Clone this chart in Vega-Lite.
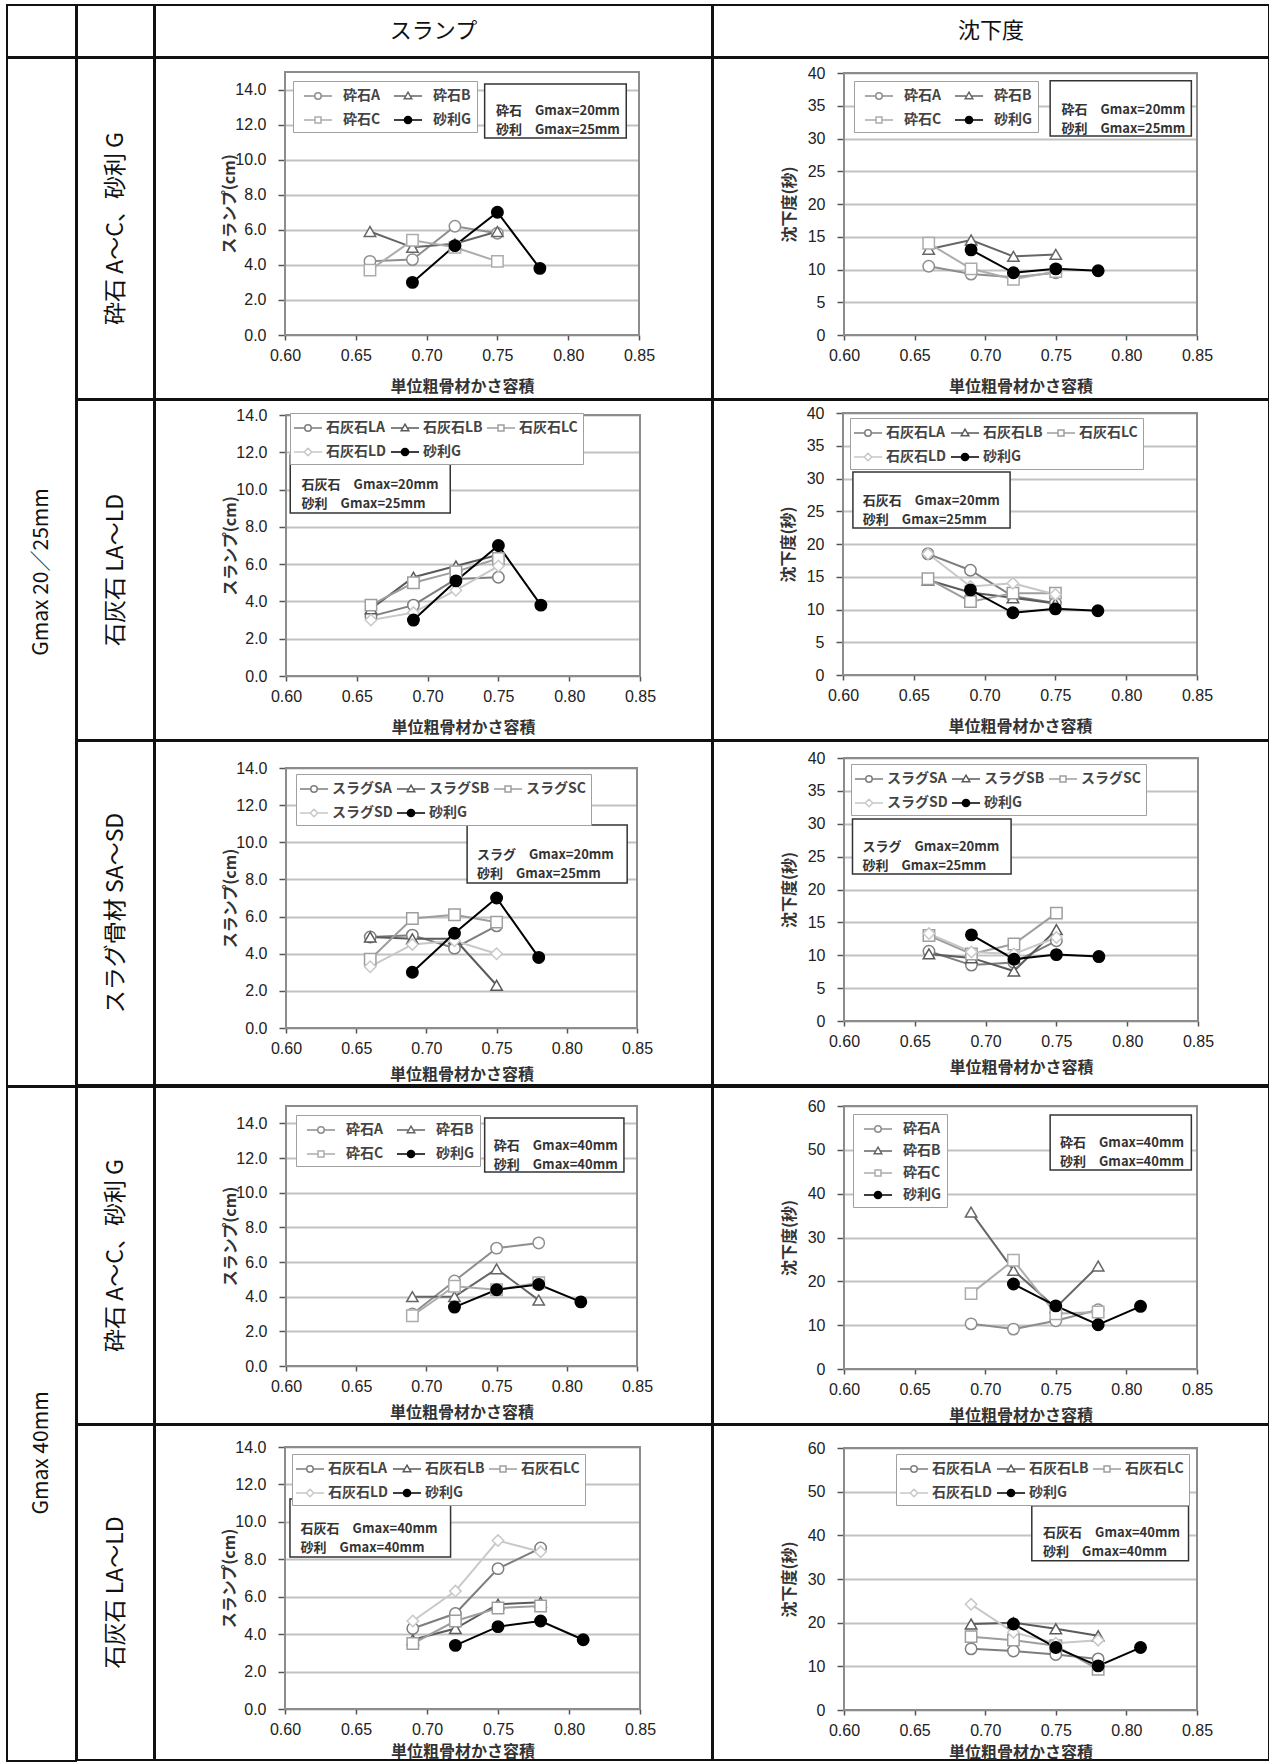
{
"$schema": "https://vega.github.io/schema/vega-lite/v6.json",
"padding": {"left": 6, "top": 4, "right": 0, "bottom": 0},
"background": "white",
"config": {
 "view": {"stroke": "#111111", "strokeWidth": 2},
 "text": {"font": "Noto Sans CJK JP", "color": "#111111"},
 "axis": {"domain": false, "labelFlush": false, "labelOverlap": false, "labelFont": "Liberation Sans", "labelFontSize": 16, "labelColor": "#222222", "titleFont": "Noto Sans CJK JP", "titleFontSize": 16, "titleFontWeight": "bold", "titleColor": "#333333", "tickColor": "#555555", "tickWidth": 1.5, "gridColor": "#c2c2c2", "gridWidth": 1.8},
 "axisX": {"grid": false, "tickSize": 5, "labelPadding": 7},
 "axisY": {"grid": true, "tickSize": 7, "labelPadding": 12},
 "legend": {"orient": "none", "zindex": 1, "labelFont": "Noto Sans CJK JP", "labelFontSize": 14, "labelFontWeight": "bold", "labelColor": "#444444", "symbolSize": 324, "symbolStrokeWidth": 1.5, "symbolOffset": 10, "labelOffset": 15, "columnPadding": 7, "rowPadding": 7, "padding": 5, "strokeColor": "#a0a0a0", "fillColor": "white"}
},
"datasets": {"d": [
{"c":1,"s":"砕石A","x":0.66,"y":4.2},{"c":1,"s":"砕石A","x":0.69,"y":4.3},{"c":1,"s":"砕石A","x":0.72,"y":6.2},{"c":1,"s":"砕石A","x":0.75,"y":5.8},
{"c":1,"s":"砕石B","x":0.66,"y":5.9},{"c":1,"s":"砕石B","x":0.69,"y":5.0},{"c":1,"s":"砕石B","x":0.72,"y":5.2},{"c":1,"s":"砕石B","x":0.75,"y":5.9},
{"c":1,"s":"砕石C","x":0.66,"y":3.7},{"c":1,"s":"砕石C","x":0.69,"y":5.4},{"c":1,"s":"砕石C","x":0.72,"y":5.0},{"c":1,"s":"砕石C","x":0.75,"y":4.2},
{"c":1,"s":"砂利G","x":0.69,"y":3.0},{"c":1,"s":"砂利G","x":0.72,"y":5.1},{"c":1,"s":"砂利G","x":0.75,"y":7.0},{"c":1,"s":"砂利G","x":0.78,"y":3.8},
{"c":2,"s":"砕石A","x":0.66,"y":10.5},{"c":2,"s":"砕石A","x":0.69,"y":9.3},{"c":2,"s":"砕石A","x":0.72,"y":8.8},{"c":2,"s":"砕石A","x":0.75,"y":9.5},
{"c":2,"s":"砕石B","x":0.66,"y":13.1},{"c":2,"s":"砕石B","x":0.69,"y":14.5},{"c":2,"s":"砕石B","x":0.72,"y":12.0},{"c":2,"s":"砕石B","x":0.75,"y":12.3},
{"c":2,"s":"砕石C","x":0.66,"y":14.0},{"c":2,"s":"砕石C","x":0.69,"y":10.1},{"c":2,"s":"砕石C","x":0.72,"y":8.5},{"c":2,"s":"砕石C","x":0.75,"y":9.7},
{"c":2,"s":"砂利G","x":0.69,"y":13.0},{"c":2,"s":"砂利G","x":0.72,"y":9.5},{"c":2,"s":"砂利G","x":0.75,"y":10.1},{"c":2,"s":"砂利G","x":0.78,"y":9.8},
{"c":3,"s":"石灰石LA","x":0.66,"y":3.2},{"c":3,"s":"石灰石LA","x":0.69,"y":3.8},{"c":3,"s":"石灰石LA","x":0.72,"y":5.2},{"c":3,"s":"石灰石LA","x":0.75,"y":5.3},
{"c":3,"s":"石灰石LB","x":0.66,"y":3.6},{"c":3,"s":"石灰石LB","x":0.69,"y":5.3},{"c":3,"s":"石灰石LB","x":0.72,"y":5.9},{"c":3,"s":"石灰石LB","x":0.75,"y":6.5},
{"c":3,"s":"石灰石LC","x":0.66,"y":3.8},{"c":3,"s":"石灰石LC","x":0.69,"y":5.0},{"c":3,"s":"石灰石LC","x":0.72,"y":5.6},{"c":3,"s":"石灰石LC","x":0.75,"y":6.3},
{"c":3,"s":"石灰石LD","x":0.66,"y":3.0},{"c":3,"s":"石灰石LD","x":0.69,"y":3.4},{"c":3,"s":"石灰石LD","x":0.72,"y":4.6},{"c":3,"s":"石灰石LD","x":0.75,"y":5.9},
{"c":3,"s":"砂利G","x":0.69,"y":3.0},{"c":3,"s":"砂利G","x":0.72,"y":5.1},{"c":3,"s":"砂利G","x":0.75,"y":7.0},{"c":3,"s":"砂利G","x":0.78,"y":3.8},
{"c":4,"s":"石灰石LA","x":0.66,"y":18.5},{"c":4,"s":"石灰石LA","x":0.69,"y":16.0},{"c":4,"s":"石灰石LA","x":0.72,"y":12.0},{"c":4,"s":"石灰石LA","x":0.75,"y":11.0},
{"c":4,"s":"石灰石LB","x":0.66,"y":14.5},{"c":4,"s":"石灰石LB","x":0.69,"y":12.6},{"c":4,"s":"石灰石LB","x":0.72,"y":11.8},{"c":4,"s":"石灰石LB","x":0.75,"y":10.9},
{"c":4,"s":"石灰石LC","x":0.66,"y":14.7},{"c":4,"s":"石灰石LC","x":0.69,"y":11.2},{"c":4,"s":"石灰石LC","x":0.72,"y":12.5},{"c":4,"s":"石灰石LC","x":0.75,"y":12.5},
{"c":4,"s":"石灰石LD","x":0.66,"y":18.5},{"c":4,"s":"石灰石LD","x":0.69,"y":13.5},{"c":4,"s":"石灰石LD","x":0.72,"y":14.0},{"c":4,"s":"石灰石LD","x":0.75,"y":12.3},
{"c":4,"s":"砂利G","x":0.69,"y":13.0},{"c":4,"s":"砂利G","x":0.72,"y":9.5},{"c":4,"s":"砂利G","x":0.75,"y":10.1},{"c":4,"s":"砂利G","x":0.78,"y":9.8},
{"c":5,"s":"スラグSA","x":0.66,"y":4.9},{"c":5,"s":"スラグSA","x":0.69,"y":5.0},{"c":5,"s":"スラグSA","x":0.72,"y":4.3},{"c":5,"s":"スラグSA","x":0.75,"y":5.5},
{"c":5,"s":"スラグSB","x":0.66,"y":4.9},{"c":5,"s":"スラグSB","x":0.69,"y":4.8},{"c":5,"s":"スラグSB","x":0.72,"y":4.8},{"c":5,"s":"スラグSB","x":0.75,"y":2.3},
{"c":5,"s":"スラグSC","x":0.66,"y":3.7},{"c":5,"s":"スラグSC","x":0.69,"y":5.9},{"c":5,"s":"スラグSC","x":0.72,"y":6.1},{"c":5,"s":"スラグSC","x":0.75,"y":5.7},
{"c":5,"s":"スラグSD","x":0.66,"y":3.3},{"c":5,"s":"スラグSD","x":0.69,"y":4.5},{"c":5,"s":"スラグSD","x":0.72,"y":4.7},{"c":5,"s":"スラグSD","x":0.75,"y":4.0},
{"c":5,"s":"砂利G","x":0.69,"y":3.0},{"c":5,"s":"砂利G","x":0.72,"y":5.1},{"c":5,"s":"砂利G","x":0.75,"y":7.0},{"c":5,"s":"砂利G","x":0.78,"y":3.8},
{"c":6,"s":"スラグSA","x":0.66,"y":10.6},{"c":6,"s":"スラグSA","x":0.69,"y":8.5},{"c":6,"s":"スラグSA","x":0.72,"y":8.9},{"c":6,"s":"スラグSA","x":0.75,"y":12.2},
{"c":6,"s":"スラグSB","x":0.66,"y":10.2},{"c":6,"s":"スラグSB","x":0.69,"y":9.6},{"c":6,"s":"スラグSB","x":0.72,"y":7.6},{"c":6,"s":"スラグSB","x":0.75,"y":13.9},
{"c":6,"s":"スラグSC","x":0.66,"y":13.0},{"c":6,"s":"スラグSC","x":0.69,"y":10.2},{"c":6,"s":"スラグSC","x":0.72,"y":11.7},{"c":6,"s":"スラグSC","x":0.75,"y":16.4},
{"c":6,"s":"スラグSD","x":0.66,"y":13.3},{"c":6,"s":"スラグSD","x":0.69,"y":10.5},{"c":6,"s":"スラグSD","x":0.72,"y":10.2},{"c":6,"s":"スラグSD","x":0.75,"y":12.7},
{"c":6,"s":"砂利G","x":0.69,"y":13.1},{"c":6,"s":"砂利G","x":0.72,"y":9.4},{"c":6,"s":"砂利G","x":0.75,"y":10.1},{"c":6,"s":"砂利G","x":0.78,"y":9.8},
{"c":7,"s":"砕石A","x":0.69,"y":3.0},{"c":7,"s":"砕石A","x":0.72,"y":4.9},{"c":7,"s":"砕石A","x":0.75,"y":6.8},{"c":7,"s":"砕石A","x":0.78,"y":7.1},
{"c":7,"s":"砕石B","x":0.69,"y":4.0},{"c":7,"s":"砕石B","x":0.72,"y":4.0},{"c":7,"s":"砕石B","x":0.75,"y":5.6},{"c":7,"s":"砕石B","x":0.78,"y":3.8},
{"c":7,"s":"砕石C","x":0.69,"y":2.9},{"c":7,"s":"砕石C","x":0.72,"y":4.6},{"c":7,"s":"砕石C","x":0.75,"y":4.4},{"c":7,"s":"砕石C","x":0.78,"y":4.8},
{"c":7,"s":"砂利G","x":0.72,"y":3.4},{"c":7,"s":"砂利G","x":0.75,"y":4.4},{"c":7,"s":"砂利G","x":0.78,"y":4.7},{"c":7,"s":"砂利G","x":0.81,"y":3.7},
{"c":8,"s":"砕石A","x":0.69,"y":10.3},{"c":8,"s":"砕石A","x":0.72,"y":9.1},{"c":8,"s":"砕石A","x":0.75,"y":11.0},{"c":8,"s":"砕石A","x":0.78,"y":13.5},
{"c":8,"s":"砕石B","x":0.69,"y":35.8},{"c":8,"s":"砕石B","x":0.72,"y":22.5},{"c":8,"s":"砕石B","x":0.75,"y":14.0},{"c":8,"s":"砕石B","x":0.78,"y":23.5},
{"c":8,"s":"砕石C","x":0.69,"y":17.2},{"c":8,"s":"砕石C","x":0.72,"y":24.8},{"c":8,"s":"砕石C","x":0.75,"y":12.6},{"c":8,"s":"砕石C","x":0.78,"y":13.0},
{"c":8,"s":"砂利G","x":0.72,"y":19.4},{"c":8,"s":"砂利G","x":0.75,"y":14.4},{"c":8,"s":"砂利G","x":0.78,"y":10.1},{"c":8,"s":"砂利G","x":0.81,"y":14.3},
{"c":9,"s":"石灰石LA","x":0.69,"y":4.3},{"c":9,"s":"石灰石LA","x":0.72,"y":5.1},{"c":9,"s":"石灰石LA","x":0.75,"y":7.5},{"c":9,"s":"石灰石LA","x":0.78,"y":8.6},
{"c":9,"s":"石灰石LB","x":0.69,"y":3.7},{"c":9,"s":"石灰石LB","x":0.72,"y":4.3},{"c":9,"s":"石灰石LB","x":0.75,"y":5.6},{"c":9,"s":"石灰石LB","x":0.78,"y":5.7},
{"c":9,"s":"石灰石LC","x":0.69,"y":3.5},{"c":9,"s":"石灰石LC","x":0.72,"y":4.7},{"c":9,"s":"石灰石LC","x":0.75,"y":5.4},{"c":9,"s":"石灰石LC","x":0.78,"y":5.5},
{"c":9,"s":"石灰石LD","x":0.69,"y":4.7},{"c":9,"s":"石灰石LD","x":0.72,"y":6.3},{"c":9,"s":"石灰石LD","x":0.75,"y":9.0},{"c":9,"s":"石灰石LD","x":0.78,"y":8.4},
{"c":9,"s":"砂利G","x":0.72,"y":3.4},{"c":9,"s":"砂利G","x":0.75,"y":4.4},{"c":9,"s":"砂利G","x":0.78,"y":4.7},{"c":9,"s":"砂利G","x":0.81,"y":3.7},
{"c":10,"s":"石灰石LA","x":0.69,"y":14.0},{"c":10,"s":"石灰石LA","x":0.72,"y":13.5},{"c":10,"s":"石灰石LA","x":0.75,"y":12.7},{"c":10,"s":"石灰石LA","x":0.78,"y":11.7},
{"c":10,"s":"石灰石LB","x":0.69,"y":19.7},{"c":10,"s":"石灰石LB","x":0.72,"y":20.0},{"c":10,"s":"石灰石LB","x":0.75,"y":18.6},{"c":10,"s":"石灰石LB","x":0.78,"y":17.0},
{"c":10,"s":"石灰石LC","x":0.69,"y":16.8},{"c":10,"s":"石灰石LC","x":0.72,"y":16.0},{"c":10,"s":"石灰石LC","x":0.75,"y":14.7},{"c":10,"s":"石灰石LC","x":0.78,"y":9.3},
{"c":10,"s":"石灰石LD","x":0.69,"y":24.2},{"c":10,"s":"石灰石LD","x":0.72,"y":17.8},{"c":10,"s":"石灰石LD","x":0.75,"y":15.3},{"c":10,"s":"石灰石LD","x":0.78,"y":16.0},
{"c":10,"s":"砂利G","x":0.72,"y":19.7},{"c":10,"s":"砂利G","x":0.75,"y":14.3},{"c":10,"s":"砂利G","x":0.78,"y":10.1},{"c":10,"s":"砂利G","x":0.81,"y":14.3}
]},
"spacing": -4, "bounds": "full",
"resolve": {"scale": {"shape": "independent", "stroke": "independent", "fill": "independent"}},
"vconcat": [
 {"hconcat": [
   {"width": 69, "height": 52, "view": {"stroke": "#111111", "strokeWidth": 2}, "data": {"values": [{"t": ""}]}, "mark": {"type": "text"}, "encoding": {"y": {"datum": 0.5, "type": "quantitative", "scale": {"domain": [0, 1]}, "axis": null}, "text": {"field": "t"}}},
   {"width": 77, "height": 52, "view": {"stroke": "#111111", "strokeWidth": 2}, "data": {"values": [{"t": ""}]}, "mark": {"type": "text"}, "encoding": {"y": {"datum": 0.5, "type": "quantitative", "scale": {"domain": [0, 1]}, "axis": null}, "text": {"field": "t"}}},
   {"width": 557, "height": 52, "view": {"stroke": "#111111", "strokeWidth": 2}, "data": {"values": [{"t": "スランプ"}]}, "mark": {"type": "text", "fontSize": 22}, "encoding": {"y": {"datum": 0.5, "type": "quantitative", "scale": {"domain": [0, 1]}, "axis": null}, "text": {"field": "t"}}},
   {"width": 556, "height": 52, "view": {"stroke": "#111111", "strokeWidth": 2}, "data": {"values": [{"t": "沈下度"}]}, "mark": {"type": "text", "fontSize": 22}, "encoding": {"y": {"datum": 0.5, "type": "quantitative", "scale": {"domain": [0, 1]}, "axis": null}, "text": {"field": "t"}}}
  ], "spacing": -4, "bounds": "full", "resolve": {"scale": {"shape": "independent", "stroke": "independent", "fill": "independent"}}},
 {"hconcat": [
   {"width": 69, "height": 1028, "view": {"stroke": "#111111", "strokeWidth": 2}, "data": {"values": [{"t": "Gmax 20／25mm"}]}, "mark": {"type": "text", "angle": 270, "fontSize": 21}, "encoding": {"y": {"datum": 0.5, "type": "quantitative", "scale": {"domain": [0, 1]}, "axis": null}, "text": {"field": "t"}}},
   {"vconcat": [
     {"hconcat": [
       {"width": 77, "height": 341, "view": {"stroke": "#111111", "strokeWidth": 2}, "data": {"values": [{"t": "砕石 A〜C、砂利 G"}]}, "mark": {"type": "text", "angle": 270, "fontSize": 23}, "encoding": {"y": {"datum": 0.5, "type": "quantitative", "scale": {"domain": [0, 1]}, "axis": null}, "text": {"field": "t"}}},
       {"width": 557, "height": 341,
        "layer": [
         {"data": {"values": [{}]}, "mark": {"type": "rect", "fill": "transparent", "stroke": "#8c8c8c", "strokeWidth": 2},
          "encoding": {
           "x": {"datum": 0.6, "type": "quantitative", "scale": {"domain": [0.6, 0.85], "range": [130, 484], "nice": false, "zero": false}, "axis": {"title": "単位粗骨材かさ容積", "offset": -64, "titlePadding": 15, "values": [0.6, 0.65, 0.7, 0.75, 0.8, 0.85], "format": ".2f"}},
           "x2": {"datum": 0.85},
           "y": {"datum": 0, "type": "quantitative", "scale": {"domain": [0, 15], "range": [277, 14], "nice": false, "zero": false}, "axis": {"title": "スランプ(cm)", "offset": -130, "titlePadding": -3, "values": [0, 2, 4, 6, 8, 10, 12, 14], "format": ".1f"}},
           "y2": {"datum": 15}}},
         {"data": {"name": "d"}, "transform": [{"filter": "datum.c == 1"}], "mark": {"type": "line", "strokeWidth": 2},
          "encoding": {"x": {"field": "x", "type": "quantitative"}, "y": {"field": "y", "type": "quantitative"},
           "stroke": {"field": "s", "type": "nominal", "scale": {"domain": ["砕石A","砕石B","砕石C","砂利G"], "range": ["#8e8e8e","#666666","#acacac","#000000"]}, "legend": null}}},
         {"data": {"name": "d"}, "transform": [{"filter": "datum.c == 1"}], "mark": {"type": "point", "filled": true, "size": 130, "strokeWidth": 1.5, "opacity": 1},
          "encoding": {"x": {"field": "x", "type": "quantitative"}, "y": {"field": "y", "type": "quantitative"},
           "shape": {"field": "s", "type": "nominal", "scale": {"domain": ["砕石A","砕石B","砕石C","砂利G"], "range": ["circle","triangle-up","square","circle"]}, "legend": null},
           "stroke": {"field": "s", "type": "nominal", "scale": {"domain": ["砕石A","砕石B","砕石C","砂利G"], "range": ["#8e8e8e","#666666","#acacac","#000000"]}, "legend": null},
           "fill": {"field": "s", "type": "nominal", "scale": {"domain": ["砕石A","砕石B","砕石C","砂利G"], "range": ["white","white","white","black"]}, "legend": null}}},
         {"data": {"name": "d"}, "transform": [{"filter": "false"}], "mark": {"type": "point", "filled": true, "strokeWidth": 1.5, "opacity": 1},
          "encoding": {
           "shape": {"field": "s", "type": "nominal", "scale": {"domain": ["砕石A","砕石B","砕石C","砂利G"], "range": ["M-1.56,0L-0.36,0M0.36,0L1.56,0M0.36,0A0.36,0.36,0,1,1,-0.36,0A0.36,0.36,0,1,1,0.36,0Z","M-1.56,0L-0.25,0M0.25,0L1.56,0M0,-0.42L0.42,0.3L-0.42,0.3Z","M-1.56,0L-0.33,0M0.33,0L1.56,0M-0.33,-0.33L0.33,-0.33L0.33,0.33L-0.33,0.33Z","M-1.56,0L1.56,0M0.4,0A0.4,0.4,0,1,1,-0.4,0A0.4,0.4,0,1,1,0.4,0Z"]}, "legend": {"title": null, "columns": 2, "direction": "horizontal", "legendX": 138, "legendY": 23}},
           "stroke": {"field": "s", "type": "nominal", "scale": {"domain": ["砕石A","砕石B","砕石C","砂利G"], "range": ["#8e8e8e","#666666","#acacac","#000000"]}},
           "fill": {"field": "s", "type": "nominal", "scale": {"domain": ["砕石A","砕石B","砕石C","砂利G"], "range": ["white","white","white","black"]}}}},
         {"data": {"values": [{}]}, "mark": {"type": "rect", "fill": "white", "stroke": "#333333", "strokeWidth": 1.5},
          "encoding": {"x": {"datum": 0.741}, "x2": {"datum": 0.841}, "y": {"datum": 11.24}, "y2": {"datum": 14.32}}},
         {"data": {"values": [{"t": "砕石　Gmax=20mm\n砂利　Gmax=25mm"}]}, "mark": {"type": "text", "align": "left", "baseline": "middle", "lineBreak": "\n", "lineHeight": 19, "fontSize": 13, "fontWeight": "bold", "color": "#333333"},
          "encoding": {"x": {"datum": 0.749}, "y": {"datum": 12.75}, "text": {"field": "t"}}}
        ],
        "resolve": {"scale": {"shape": "independent", "stroke": "independent", "fill": "independent"}}},
       {"width": 556, "height": 341,
        "layer": [
         {"data": {"values": [{}]}, "mark": {"type": "rect", "fill": "transparent", "stroke": "#8c8c8c", "strokeWidth": 2},
          "encoding": {
           "x": {"datum": 0.6, "type": "quantitative", "scale": {"domain": [0.6, 0.85], "range": [131, 484], "nice": false, "zero": false}, "axis": {"title": "単位粗骨材かさ容積", "offset": -64, "titlePadding": 15, "values": [0.6, 0.65, 0.7, 0.75, 0.8, 0.85], "format": ".2f"}},
           "x2": {"datum": 0.85},
           "y": {"datum": 0, "type": "quantitative", "scale": {"domain": [0, 40], "range": [277, 15], "nice": false, "zero": false}, "axis": {"title": "沈下度(秒)", "offset": -131, "titlePadding": 10, "values": [0, 5, 10, 15, 20, 25, 30, 35, 40], "format": "d"}},
           "y2": {"datum": 40}}},
         {"data": {"name": "d"}, "transform": [{"filter": "datum.c == 2"}], "mark": {"type": "line", "strokeWidth": 2},
          "encoding": {"x": {"field": "x", "type": "quantitative"}, "y": {"field": "y", "type": "quantitative"},
           "stroke": {"field": "s", "type": "nominal", "scale": {"domain": ["砕石A","砕石B","砕石C","砂利G"], "range": ["#8e8e8e","#666666","#acacac","#000000"]}, "legend": null}}},
         {"data": {"name": "d"}, "transform": [{"filter": "datum.c == 2"}], "mark": {"type": "point", "filled": true, "size": 130, "strokeWidth": 1.5, "opacity": 1},
          "encoding": {"x": {"field": "x", "type": "quantitative"}, "y": {"field": "y", "type": "quantitative"},
           "shape": {"field": "s", "type": "nominal", "scale": {"domain": ["砕石A","砕石B","砕石C","砂利G"], "range": ["circle","triangle-up","square","circle"]}, "legend": null},
           "stroke": {"field": "s", "type": "nominal", "scale": {"domain": ["砕石A","砕石B","砕石C","砂利G"], "range": ["#8e8e8e","#666666","#acacac","#000000"]}, "legend": null},
           "fill": {"field": "s", "type": "nominal", "scale": {"domain": ["砕石A","砕石B","砕石C","砂利G"], "range": ["white","white","white","black"]}, "legend": null}}},
         {"data": {"name": "d"}, "transform": [{"filter": "false"}], "mark": {"type": "point", "filled": true, "strokeWidth": 1.5, "opacity": 1},
          "encoding": {
           "shape": {"field": "s", "type": "nominal", "scale": {"domain": ["砕石A","砕石B","砕石C","砂利G"], "range": ["M-1.56,0L-0.36,0M0.36,0L1.56,0M0.36,0A0.36,0.36,0,1,1,-0.36,0A0.36,0.36,0,1,1,0.36,0Z","M-1.56,0L-0.25,0M0.25,0L1.56,0M0,-0.42L0.42,0.3L-0.42,0.3Z","M-1.56,0L-0.33,0M0.33,0L1.56,0M-0.33,-0.33L0.33,-0.33L0.33,0.33L-0.33,0.33Z","M-1.56,0L1.56,0M0.4,0A0.4,0.4,0,1,1,-0.4,0A0.4,0.4,0,1,1,0.4,0Z"]}, "legend": {"title": null, "columns": 2, "direction": "horizontal", "legendX": 141, "legendY": 23}},
           "stroke": {"field": "s", "type": "nominal", "scale": {"domain": ["砕石A","砕石B","砕石C","砂利G"], "range": ["#8e8e8e","#666666","#acacac","#000000"]}},
           "fill": {"field": "s", "type": "nominal", "scale": {"domain": ["砕石A","砕石B","砕石C","砂利G"], "range": ["white","white","white","black"]}}}},
         {"data": {"values": [{}]}, "mark": {"type": "rect", "fill": "white", "stroke": "#333333", "strokeWidth": 1.5},
          "encoding": {"x": {"datum": 0.746}, "x2": {"datum": 0.846}, "y": {"datum": 30.4}, "y2": {"datum": 38.8}}},
         {"data": {"values": [{"t": "砕石　Gmax=20mm\n砂利　Gmax=25mm"}]}, "mark": {"type": "text", "align": "left", "baseline": "middle", "lineBreak": "\n", "lineHeight": 19, "fontSize": 13, "fontWeight": "bold", "color": "#333333"},
          "encoding": {"x": {"datum": 0.754}, "y": {"datum": 34.4}, "text": {"field": "t"}}}
        ],
        "resolve": {"scale": {"shape": "independent", "stroke": "independent", "fill": "independent"}}}
      ], "spacing": -4, "bounds": "full", "resolve": {"scale": {"shape": "independent", "stroke": "independent", "fill": "independent"}}},
     {"hconcat": [
       {"width": 77, "height": 340, "view": {"stroke": "#111111", "strokeWidth": 2}, "data": {"values": [{"t": "石灰石 LA〜LD"}]}, "mark": {"type": "text", "angle": 270, "fontSize": 23}, "encoding": {"y": {"datum": 0.5, "type": "quantitative", "scale": {"domain": [0, 1]}, "axis": null}, "text": {"field": "t"}}},
       {"width": 557, "height": 340,
        "layer": [
         {"data": {"values": [{}]}, "mark": {"type": "rect", "fill": "transparent", "stroke": "#8c8c8c", "strokeWidth": 2},
          "encoding": {
           "x": {"datum": 0.6, "type": "quantitative", "scale": {"domain": [0.6, 0.85], "range": [131, 485], "nice": false, "zero": false}, "axis": {"title": "単位粗骨材かさ容積", "offset": -64, "titlePadding": 15, "values": [0.6, 0.65, 0.7, 0.75, 0.8, 0.85], "format": ".2f"}},
           "x2": {"datum": 0.85},
           "y": {"datum": 0, "type": "quantitative", "scale": {"domain": [0, 14], "range": [276, 15], "nice": false, "zero": false}, "axis": {"title": "スランプ(cm)", "offset": -131, "titlePadding": -3, "values": [0, 2, 4, 6, 8, 10, 12, 14], "format": ".1f"}},
           "y2": {"datum": 14}}},
         {"data": {"name": "d"}, "transform": [{"filter": "datum.c == 3"}], "mark": {"type": "line", "strokeWidth": 2},
          "encoding": {"x": {"field": "x", "type": "quantitative"}, "y": {"field": "y", "type": "quantitative"},
           "stroke": {"field": "s", "type": "nominal", "scale": {"domain": ["石灰石LA","石灰石LB","石灰石LC","石灰石LD","砂利G"], "range": ["#7e7e7e","#5a5a5a","#9e9e9e","#c8c8c8","#000000"]}, "legend": null}}},
         {"data": {"name": "d"}, "transform": [{"filter": "datum.c == 3"}], "mark": {"type": "point", "filled": true, "size": 130, "strokeWidth": 1.5, "opacity": 1},
          "encoding": {"x": {"field": "x", "type": "quantitative"}, "y": {"field": "y", "type": "quantitative"},
           "shape": {"field": "s", "type": "nominal", "scale": {"domain": ["石灰石LA","石灰石LB","石灰石LC","石灰石LD","砂利G"], "range": ["circle","triangle-up","square","diamond","circle"]}, "legend": null},
           "stroke": {"field": "s", "type": "nominal", "scale": {"domain": ["石灰石LA","石灰石LB","石灰石LC","石灰石LD","砂利G"], "range": ["#7e7e7e","#5a5a5a","#9e9e9e","#c8c8c8","#000000"]}, "legend": null},
           "fill": {"field": "s", "type": "nominal", "scale": {"domain": ["石灰石LA","石灰石LB","石灰石LC","石灰石LD","砂利G"], "range": ["white","white","white","white","black"]}, "legend": null}}},
         {"data": {"name": "d"}, "transform": [{"filter": "false"}], "mark": {"type": "point", "filled": true, "strokeWidth": 1.5, "opacity": 1},
          "encoding": {
           "shape": {"field": "s", "type": "nominal", "scale": {"domain": ["石灰石LA","石灰石LB","石灰石LC","石灰石LD","砂利G"], "range": ["M-1.56,0L-0.36,0M0.36,0L1.56,0M0.36,0A0.36,0.36,0,1,1,-0.36,0A0.36,0.36,0,1,1,0.36,0Z","M-1.56,0L-0.25,0M0.25,0L1.56,0M0,-0.42L0.42,0.3L-0.42,0.3Z","M-1.56,0L-0.33,0M0.33,0L1.56,0M-0.33,-0.33L0.33,-0.33L0.33,0.33L-0.33,0.33Z","M-1.56,0L-0.42,0M0.42,0L1.56,0M0,-0.42L0.42,0L0,0.42L-0.42,0Z","M-1.56,0L1.56,0M0.4,0A0.4,0.4,0,1,1,-0.4,0A0.4,0.4,0,1,1,0.4,0Z"]}, "legend": {"title": null, "columns": 3, "direction": "horizontal", "columnPadding": 0, "symbolOffset": 3, "labelOffset": 8, "legendX": 135, "legendY": 13}},
           "stroke": {"field": "s", "type": "nominal", "scale": {"domain": ["石灰石LA","石灰石LB","石灰石LC","石灰石LD","砂利G"], "range": ["#7e7e7e","#5a5a5a","#9e9e9e","#c8c8c8","#000000"]}},
           "fill": {"field": "s", "type": "nominal", "scale": {"domain": ["石灰石LA","石灰石LB","石灰石LC","石灰石LD","砂利G"], "range": ["white","white","white","white","black"]}}}},
         {"data": {"values": [{}]}, "mark": {"type": "rect", "fill": "white", "stroke": "#333333", "strokeWidth": 1.5},
          "encoding": {"x": {"datum": 0.603}, "x2": {"datum": 0.716}, "y": {"datum": 8.74}, "y2": {"datum": 11.86}}},
         {"data": {"values": [{"t": "石灰石　Gmax=20mm\n砂利　Gmax=25mm"}]}, "mark": {"type": "text", "align": "left", "baseline": "middle", "lineBreak": "\n", "lineHeight": 19, "fontSize": 13, "fontWeight": "bold", "color": "#333333"},
          "encoding": {"x": {"datum": 0.611}, "y": {"datum": 10.27}, "text": {"field": "t"}}}
        ],
        "resolve": {"scale": {"shape": "independent", "stroke": "independent", "fill": "independent"}}},
       {"width": 556, "height": 340,
        "layer": [
         {"data": {"values": [{}]}, "mark": {"type": "rect", "fill": "transparent", "stroke": "#8c8c8c", "strokeWidth": 2},
          "encoding": {
           "x": {"datum": 0.6, "type": "quantitative", "scale": {"domain": [0.6, 0.85], "range": [130, 484], "nice": false, "zero": false}, "axis": {"title": "単位粗骨材かさ容積", "offset": -65, "titlePadding": 15, "values": [0.6, 0.65, 0.7, 0.75, 0.8, 0.85], "format": ".2f"}},
           "x2": {"datum": 0.85},
           "y": {"datum": 0, "type": "quantitative", "scale": {"domain": [0, 40], "range": [275, 13], "nice": false, "zero": false}, "axis": {"title": "沈下度(秒)", "offset": -130, "titlePadding": 10, "values": [0, 5, 10, 15, 20, 25, 30, 35, 40], "format": "d"}},
           "y2": {"datum": 40}}},
         {"data": {"name": "d"}, "transform": [{"filter": "datum.c == 4"}], "mark": {"type": "line", "strokeWidth": 2},
          "encoding": {"x": {"field": "x", "type": "quantitative"}, "y": {"field": "y", "type": "quantitative"},
           "stroke": {"field": "s", "type": "nominal", "scale": {"domain": ["石灰石LA","石灰石LB","石灰石LC","石灰石LD","砂利G"], "range": ["#7e7e7e","#5a5a5a","#9e9e9e","#c8c8c8","#000000"]}, "legend": null}}},
         {"data": {"name": "d"}, "transform": [{"filter": "datum.c == 4"}], "mark": {"type": "point", "filled": true, "size": 130, "strokeWidth": 1.5, "opacity": 1},
          "encoding": {"x": {"field": "x", "type": "quantitative"}, "y": {"field": "y", "type": "quantitative"},
           "shape": {"field": "s", "type": "nominal", "scale": {"domain": ["石灰石LA","石灰石LB","石灰石LC","石灰石LD","砂利G"], "range": ["circle","triangle-up","square","diamond","circle"]}, "legend": null},
           "stroke": {"field": "s", "type": "nominal", "scale": {"domain": ["石灰石LA","石灰石LB","石灰石LC","石灰石LD","砂利G"], "range": ["#7e7e7e","#5a5a5a","#9e9e9e","#c8c8c8","#000000"]}, "legend": null},
           "fill": {"field": "s", "type": "nominal", "scale": {"domain": ["石灰石LA","石灰石LB","石灰石LC","石灰石LD","砂利G"], "range": ["white","white","white","white","black"]}, "legend": null}}},
         {"data": {"name": "d"}, "transform": [{"filter": "false"}], "mark": {"type": "point", "filled": true, "strokeWidth": 1.5, "opacity": 1},
          "encoding": {
           "shape": {"field": "s", "type": "nominal", "scale": {"domain": ["石灰石LA","石灰石LB","石灰石LC","石灰石LD","砂利G"], "range": ["M-1.56,0L-0.36,0M0.36,0L1.56,0M0.36,0A0.36,0.36,0,1,1,-0.36,0A0.36,0.36,0,1,1,0.36,0Z","M-1.56,0L-0.25,0M0.25,0L1.56,0M0,-0.42L0.42,0.3L-0.42,0.3Z","M-1.56,0L-0.33,0M0.33,0L1.56,0M-0.33,-0.33L0.33,-0.33L0.33,0.33L-0.33,0.33Z","M-1.56,0L-0.42,0M0.42,0L1.56,0M0,-0.42L0.42,0L0,0.42L-0.42,0Z","M-1.56,0L1.56,0M0.4,0A0.4,0.4,0,1,1,-0.4,0A0.4,0.4,0,1,1,0.4,0Z"]}, "legend": {"title": null, "columns": 3, "direction": "horizontal", "columnPadding": 0, "symbolOffset": 3, "labelOffset": 8, "legendX": 137, "legendY": 18}},
           "stroke": {"field": "s", "type": "nominal", "scale": {"domain": ["石灰石LA","石灰石LB","石灰石LC","石灰石LD","砂利G"], "range": ["#7e7e7e","#5a5a5a","#9e9e9e","#c8c8c8","#000000"]}},
           "fill": {"field": "s", "type": "nominal", "scale": {"domain": ["石灰石LA","石灰石LB","石灰石LC","石灰石LD","砂利G"], "range": ["white","white","white","white","black"]}}}},
         {"data": {"values": [{}]}, "mark": {"type": "rect", "fill": "white", "stroke": "#333333", "strokeWidth": 1.5},
          "encoding": {"x": {"datum": 0.607}, "x2": {"datum": 0.718}, "y": {"datum": 22.44}, "y2": {"datum": 30.99}}},
         {"data": {"values": [{"t": "石灰石　Gmax=20mm\n砂利　Gmax=25mm"}]}, "mark": {"type": "text", "align": "left", "baseline": "middle", "lineBreak": "\n", "lineHeight": 19, "fontSize": 13, "fontWeight": "bold", "color": "#333333"},
          "encoding": {"x": {"datum": 0.614}, "y": {"datum": 26.56}, "text": {"field": "t"}}}
        ],
        "resolve": {"scale": {"shape": "independent", "stroke": "independent", "fill": "independent"}}}
      ], "spacing": -4, "bounds": "full", "resolve": {"scale": {"shape": "independent", "stroke": "independent", "fill": "independent"}}},
     {"hconcat": [
       {"width": 77, "height": 344, "view": {"stroke": "#111111", "strokeWidth": 2}, "data": {"values": [{"t": "スラグ骨材 SA〜SD"}]}, "mark": {"type": "text", "angle": 270, "fontSize": 23}, "encoding": {"y": {"datum": 0.5, "type": "quantitative", "scale": {"domain": [0, 1]}, "axis": null}, "text": {"field": "t"}}},
       {"width": 557, "height": 344,
        "layer": [
         {"data": {"values": [{}]}, "mark": {"type": "rect", "fill": "transparent", "stroke": "#8c8c8c", "strokeWidth": 2},
          "encoding": {
           "x": {"datum": 0.6, "type": "quantitative", "scale": {"domain": [0.6, 0.85], "range": [131, 482], "nice": false, "zero": false}, "axis": {"title": "単位粗骨材かさ容積", "offset": -57, "titlePadding": 10, "values": [0.6, 0.65, 0.7, 0.75, 0.8, 0.85], "format": ".2f"}},
           "x2": {"datum": 0.85},
           "y": {"datum": 0, "type": "quantitative", "scale": {"domain": [0, 14], "range": [287, 27], "nice": false, "zero": false}, "axis": {"title": "スランプ(cm)", "offset": -131, "titlePadding": -3, "values": [0, 2, 4, 6, 8, 10, 12, 14], "format": ".1f"}},
           "y2": {"datum": 14}}},
         {"data": {"name": "d"}, "transform": [{"filter": "datum.c == 5"}], "mark": {"type": "line", "strokeWidth": 2},
          "encoding": {"x": {"field": "x", "type": "quantitative"}, "y": {"field": "y", "type": "quantitative"},
           "stroke": {"field": "s", "type": "nominal", "scale": {"domain": ["スラグSA","スラグSB","スラグSC","スラグSD","砂利G"], "range": ["#7e7e7e","#5a5a5a","#9e9e9e","#c8c8c8","#000000"]}, "legend": null}}},
         {"data": {"name": "d"}, "transform": [{"filter": "datum.c == 5"}], "mark": {"type": "point", "filled": true, "size": 130, "strokeWidth": 1.5, "opacity": 1},
          "encoding": {"x": {"field": "x", "type": "quantitative"}, "y": {"field": "y", "type": "quantitative"},
           "shape": {"field": "s", "type": "nominal", "scale": {"domain": ["スラグSA","スラグSB","スラグSC","スラグSD","砂利G"], "range": ["circle","triangle-up","square","diamond","circle"]}, "legend": null},
           "stroke": {"field": "s", "type": "nominal", "scale": {"domain": ["スラグSA","スラグSB","スラグSC","スラグSD","砂利G"], "range": ["#7e7e7e","#5a5a5a","#9e9e9e","#c8c8c8","#000000"]}, "legend": null},
           "fill": {"field": "s", "type": "nominal", "scale": {"domain": ["スラグSA","スラグSB","スラグSC","スラグSD","砂利G"], "range": ["white","white","white","white","black"]}, "legend": null}}},
         {"data": {"name": "d"}, "transform": [{"filter": "false"}], "mark": {"type": "point", "filled": true, "strokeWidth": 1.5, "opacity": 1},
          "encoding": {
           "shape": {"field": "s", "type": "nominal", "scale": {"domain": ["スラグSA","スラグSB","スラグSC","スラグSD","砂利G"], "range": ["M-1.56,0L-0.36,0M0.36,0L1.56,0M0.36,0A0.36,0.36,0,1,1,-0.36,0A0.36,0.36,0,1,1,0.36,0Z","M-1.56,0L-0.25,0M0.25,0L1.56,0M0,-0.42L0.42,0.3L-0.42,0.3Z","M-1.56,0L-0.33,0M0.33,0L1.56,0M-0.33,-0.33L0.33,-0.33L0.33,0.33L-0.33,0.33Z","M-1.56,0L-0.42,0M0.42,0L1.56,0M0,-0.42L0.42,0L0,0.42L-0.42,0Z","M-1.56,0L1.56,0M0.4,0A0.4,0.4,0,1,1,-0.4,0A0.4,0.4,0,1,1,0.4,0Z"]}, "legend": {"title": null, "columns": 3, "direction": "horizontal", "columnPadding": 0, "symbolOffset": 3, "labelOffset": 8, "legendX": 141, "legendY": 33}},
           "stroke": {"field": "s", "type": "nominal", "scale": {"domain": ["スラグSA","スラグSB","スラグSC","スラグSD","砂利G"], "range": ["#7e7e7e","#5a5a5a","#9e9e9e","#c8c8c8","#000000"]}},
           "fill": {"field": "s", "type": "nominal", "scale": {"domain": ["スラグSA","スラグSB","スラグSC","スラグSD","砂利G"], "range": ["white","white","white","white","black"]}}}},
         {"data": {"values": [{}]}, "mark": {"type": "rect", "fill": "white", "stroke": "#333333", "strokeWidth": 1.5},
          "encoding": {"x": {"datum": 0.729}, "x2": {"datum": 0.843}, "y": {"datum": 7.81}, "y2": {"datum": 10.93}}},
         {"data": {"values": [{"t": "スラグ　Gmax=20mm\n砂利　Gmax=25mm"}]}, "mark": {"type": "text", "align": "left", "baseline": "middle", "lineBreak": "\n", "lineHeight": 19, "fontSize": 13, "fontWeight": "bold", "color": "#333333"},
          "encoding": {"x": {"datum": 0.736}, "y": {"datum": 9.29}, "text": {"field": "t"}}}
        ],
        "resolve": {"scale": {"shape": "independent", "stroke": "independent", "fill": "independent"}}},
       {"width": 556, "height": 344,
        "layer": [
         {"data": {"values": [{}]}, "mark": {"type": "rect", "fill": "transparent", "stroke": "#8c8c8c", "strokeWidth": 2},
          "encoding": {
           "x": {"datum": 0.6, "type": "quantitative", "scale": {"domain": [0.6, 0.85], "range": [131, 485], "nice": false, "zero": false}, "axis": {"title": "単位粗骨材かさ容積", "offset": -64, "titlePadding": 10, "values": [0.6, 0.65, 0.7, 0.75, 0.8, 0.85], "format": ".2f"}},
           "x2": {"datum": 0.85},
           "y": {"datum": 0, "type": "quantitative", "scale": {"domain": [0, 40], "range": [280, 17], "nice": false, "zero": false}, "axis": {"title": "沈下度(秒)", "offset": -131, "titlePadding": 10, "values": [0, 5, 10, 15, 20, 25, 30, 35, 40], "format": "d"}},
           "y2": {"datum": 40}}},
         {"data": {"name": "d"}, "transform": [{"filter": "datum.c == 6"}], "mark": {"type": "line", "strokeWidth": 2},
          "encoding": {"x": {"field": "x", "type": "quantitative"}, "y": {"field": "y", "type": "quantitative"},
           "stroke": {"field": "s", "type": "nominal", "scale": {"domain": ["スラグSA","スラグSB","スラグSC","スラグSD","砂利G"], "range": ["#7e7e7e","#5a5a5a","#9e9e9e","#c8c8c8","#000000"]}, "legend": null}}},
         {"data": {"name": "d"}, "transform": [{"filter": "datum.c == 6"}], "mark": {"type": "point", "filled": true, "size": 130, "strokeWidth": 1.5, "opacity": 1},
          "encoding": {"x": {"field": "x", "type": "quantitative"}, "y": {"field": "y", "type": "quantitative"},
           "shape": {"field": "s", "type": "nominal", "scale": {"domain": ["スラグSA","スラグSB","スラグSC","スラグSD","砂利G"], "range": ["circle","triangle-up","square","diamond","circle"]}, "legend": null},
           "stroke": {"field": "s", "type": "nominal", "scale": {"domain": ["スラグSA","スラグSB","スラグSC","スラグSD","砂利G"], "range": ["#7e7e7e","#5a5a5a","#9e9e9e","#c8c8c8","#000000"]}, "legend": null},
           "fill": {"field": "s", "type": "nominal", "scale": {"domain": ["スラグSA","スラグSB","スラグSC","スラグSD","砂利G"], "range": ["white","white","white","white","black"]}, "legend": null}}},
         {"data": {"name": "d"}, "transform": [{"filter": "false"}], "mark": {"type": "point", "filled": true, "strokeWidth": 1.5, "opacity": 1},
          "encoding": {
           "shape": {"field": "s", "type": "nominal", "scale": {"domain": ["スラグSA","スラグSB","スラグSC","スラグSD","砂利G"], "range": ["M-1.56,0L-0.36,0M0.36,0L1.56,0M0.36,0A0.36,0.36,0,1,1,-0.36,0A0.36,0.36,0,1,1,0.36,0Z","M-1.56,0L-0.25,0M0.25,0L1.56,0M0,-0.42L0.42,0.3L-0.42,0.3Z","M-1.56,0L-0.33,0M0.33,0L1.56,0M-0.33,-0.33L0.33,-0.33L0.33,0.33L-0.33,0.33Z","M-1.56,0L-0.42,0M0.42,0L1.56,0M0,-0.42L0.42,0L0,0.42L-0.42,0Z","M-1.56,0L1.56,0M0.4,0A0.4,0.4,0,1,1,-0.4,0A0.4,0.4,0,1,1,0.4,0Z"]}, "legend": {"title": null, "columns": 3, "direction": "horizontal", "columnPadding": 0, "symbolOffset": 3, "labelOffset": 8, "legendX": 138, "legendY": 23}},
           "stroke": {"field": "s", "type": "nominal", "scale": {"domain": ["スラグSA","スラグSB","スラグSC","スラグSD","砂利G"], "range": ["#7e7e7e","#5a5a5a","#9e9e9e","#c8c8c8","#000000"]}},
           "fill": {"field": "s", "type": "nominal", "scale": {"domain": ["スラグSA","スラグSB","スラグSC","スラグSD","砂利G"], "range": ["white","white","white","white","black"]}}}},
         {"data": {"values": [{}]}, "mark": {"type": "rect", "fill": "white", "stroke": "#333333", "strokeWidth": 1.5},
          "encoding": {"x": {"datum": 0.606}, "x2": {"datum": 0.718}, "y": {"datum": 22.36}, "y2": {"datum": 30.72}}},
         {"data": {"values": [{"t": "スラグ　Gmax=20mm\n砂利　Gmax=25mm"}]}, "mark": {"type": "text", "align": "left", "baseline": "middle", "lineBreak": "\n", "lineHeight": 19, "fontSize": 13, "fontWeight": "bold", "color": "#333333"},
          "encoding": {"x": {"datum": 0.613}, "y": {"datum": 26.39}, "text": {"field": "t"}}}
        ],
        "resolve": {"scale": {"shape": "independent", "stroke": "independent", "fill": "independent"}}}
      ], "spacing": -4, "bounds": "full", "resolve": {"scale": {"shape": "independent", "stroke": "independent", "fill": "independent"}}}
    ], "spacing": -4, "bounds": "full", "resolve": {"scale": {"shape": "independent", "stroke": "independent", "fill": "independent"}}}
  ], "spacing": -4, "bounds": "full", "resolve": {"scale": {"shape": "independent", "stroke": "independent", "fill": "independent"}}},
 {"hconcat": [
   {"width": 69, "height": 674, "view": {"stroke": "#111111", "strokeWidth": 2}, "data": {"values": [{"t": "Gmax 40mm"}]}, "mark": {"type": "text", "angle": 270, "fontSize": 21}, "encoding": {"y": {"datum": 0.457, "type": "quantitative", "scale": {"domain": [0, 1]}, "axis": null}, "text": {"field": "t"}}},
   {"vconcat": [
     {"hconcat": [
       {"width": 77, "height": 337, "view": {"stroke": "#111111", "strokeWidth": 2}, "data": {"values": [{"t": "砕石 A〜C、砂利 G"}]}, "mark": {"type": "text", "angle": 270, "fontSize": 23}, "encoding": {"y": {"datum": 0.5, "type": "quantitative", "scale": {"domain": [0, 1]}, "axis": null}, "text": {"field": "t"}}},
       {"width": 557, "height": 337,
        "layer": [
         {"data": {"values": [{}]}, "mark": {"type": "rect", "fill": "transparent", "stroke": "#8c8c8c", "strokeWidth": 2},
          "encoding": {
           "x": {"datum": 0.6, "type": "quantitative", "scale": {"domain": [0.6, 0.85], "range": [131, 482], "nice": false, "zero": false}, "axis": {"title": "単位粗骨材かさ容積", "offset": -58, "titlePadding": 10, "values": [0.6, 0.65, 0.7, 0.75, 0.8, 0.85], "format": ".2f"}},
           "x2": {"datum": 0.85},
           "y": {"datum": 0, "type": "quantitative", "scale": {"domain": [0, 15], "range": [279, 19], "nice": false, "zero": false}, "axis": {"title": "スランプ(cm)", "offset": -131, "titlePadding": -3, "values": [0, 2, 4, 6, 8, 10, 12, 14], "format": ".1f"}},
           "y2": {"datum": 15}}},
         {"data": {"name": "d"}, "transform": [{"filter": "datum.c == 7"}], "mark": {"type": "line", "strokeWidth": 2},
          "encoding": {"x": {"field": "x", "type": "quantitative"}, "y": {"field": "y", "type": "quantitative"},
           "stroke": {"field": "s", "type": "nominal", "scale": {"domain": ["砕石A","砕石B","砕石C","砂利G"], "range": ["#8e8e8e","#666666","#acacac","#000000"]}, "legend": null}}},
         {"data": {"name": "d"}, "transform": [{"filter": "datum.c == 7"}], "mark": {"type": "point", "filled": true, "size": 130, "strokeWidth": 1.5, "opacity": 1},
          "encoding": {"x": {"field": "x", "type": "quantitative"}, "y": {"field": "y", "type": "quantitative"},
           "shape": {"field": "s", "type": "nominal", "scale": {"domain": ["砕石A","砕石B","砕石C","砂利G"], "range": ["circle","triangle-up","square","circle"]}, "legend": null},
           "stroke": {"field": "s", "type": "nominal", "scale": {"domain": ["砕石A","砕石B","砕石C","砂利G"], "range": ["#8e8e8e","#666666","#acacac","#000000"]}, "legend": null},
           "fill": {"field": "s", "type": "nominal", "scale": {"domain": ["砕石A","砕石B","砕石C","砂利G"], "range": ["white","white","white","black"]}, "legend": null}}},
         {"data": {"name": "d"}, "transform": [{"filter": "false"}], "mark": {"type": "point", "filled": true, "strokeWidth": 1.5, "opacity": 1},
          "encoding": {
           "shape": {"field": "s", "type": "nominal", "scale": {"domain": ["砕石A","砕石B","砕石C","砂利G"], "range": ["M-1.56,0L-0.36,0M0.36,0L1.56,0M0.36,0A0.36,0.36,0,1,1,-0.36,0A0.36,0.36,0,1,1,0.36,0Z","M-1.56,0L-0.25,0M0.25,0L1.56,0M0,-0.42L0.42,0.3L-0.42,0.3Z","M-1.56,0L-0.33,0M0.33,0L1.56,0M-0.33,-0.33L0.33,-0.33L0.33,0.33L-0.33,0.33Z","M-1.56,0L1.56,0M0.4,0A0.4,0.4,0,1,1,-0.4,0A0.4,0.4,0,1,1,0.4,0Z"]}, "legend": {"title": null, "columns": 2, "direction": "horizontal", "legendX": 141, "legendY": 28}},
           "stroke": {"field": "s", "type": "nominal", "scale": {"domain": ["砕石A","砕石B","砕石C","砂利G"], "range": ["#8e8e8e","#666666","#acacac","#000000"]}},
           "fill": {"field": "s", "type": "nominal", "scale": {"domain": ["砕石A","砕石B","砕石C","砂利G"], "range": ["white","white","white","black"]}}}},
         {"data": {"values": [{}]}, "mark": {"type": "rect", "fill": "white", "stroke": "#333333", "strokeWidth": 1.5},
          "encoding": {"x": {"datum": 0.7415}, "x2": {"datum": 0.8407}, "y": {"datum": 11.19}, "y2": {"datum": 14.31}}},
         {"data": {"values": [{"t": "砕石　Gmax=40mm\n砂利　Gmax=40mm"}]}, "mark": {"type": "text", "align": "left", "baseline": "middle", "lineBreak": "\n", "lineHeight": 19, "fontSize": 13, "fontWeight": "bold", "color": "#333333"},
          "encoding": {"x": {"datum": 0.748}, "y": {"datum": 12.69}, "text": {"field": "t"}}}
        ],
        "resolve": {"scale": {"shape": "independent", "stroke": "independent", "fill": "independent"}}},
       {"width": 556, "height": 337,
        "layer": [
         {"data": {"values": [{}]}, "mark": {"type": "rect", "fill": "transparent", "stroke": "#8c8c8c", "strokeWidth": 2},
          "encoding": {
           "x": {"datum": 0.6, "type": "quantitative", "scale": {"domain": [0.6, 0.85], "range": [131, 484], "nice": false, "zero": false}, "axis": {"title": "単位粗骨材かさ容積", "offset": -55, "titlePadding": 10, "values": [0.6, 0.65, 0.7, 0.75, 0.8, 0.85], "format": ".2f"}},
           "x2": {"datum": 0.85},
           "y": {"datum": 0, "type": "quantitative", "scale": {"domain": [0, 60], "range": [282, 19], "nice": false, "zero": false}, "axis": {"title": "沈下度(秒)", "offset": -131, "titlePadding": 10, "values": [0, 10, 20, 30, 40, 50, 60], "format": "d"}},
           "y2": {"datum": 60}}},
         {"data": {"name": "d"}, "transform": [{"filter": "datum.c == 8"}], "mark": {"type": "line", "strokeWidth": 2},
          "encoding": {"x": {"field": "x", "type": "quantitative"}, "y": {"field": "y", "type": "quantitative"},
           "stroke": {"field": "s", "type": "nominal", "scale": {"domain": ["砕石A","砕石B","砕石C","砂利G"], "range": ["#8e8e8e","#666666","#acacac","#000000"]}, "legend": null}}},
         {"data": {"name": "d"}, "transform": [{"filter": "datum.c == 8"}], "mark": {"type": "point", "filled": true, "size": 130, "strokeWidth": 1.5, "opacity": 1},
          "encoding": {"x": {"field": "x", "type": "quantitative"}, "y": {"field": "y", "type": "quantitative"},
           "shape": {"field": "s", "type": "nominal", "scale": {"domain": ["砕石A","砕石B","砕石C","砂利G"], "range": ["circle","triangle-up","square","circle"]}, "legend": null},
           "stroke": {"field": "s", "type": "nominal", "scale": {"domain": ["砕石A","砕石B","砕石C","砂利G"], "range": ["#8e8e8e","#666666","#acacac","#000000"]}, "legend": null},
           "fill": {"field": "s", "type": "nominal", "scale": {"domain": ["砕石A","砕石B","砕石C","砂利G"], "range": ["white","white","white","black"]}, "legend": null}}},
         {"data": {"name": "d"}, "transform": [{"filter": "false"}], "mark": {"type": "point", "filled": true, "strokeWidth": 1.5, "opacity": 1},
          "encoding": {
           "shape": {"field": "s", "type": "nominal", "scale": {"domain": ["砕石A","砕石B","砕石C","砂利G"], "range": ["M-1.56,0L-0.36,0M0.36,0L1.56,0M0.36,0A0.36,0.36,0,1,1,-0.36,0A0.36,0.36,0,1,1,0.36,0Z","M-1.56,0L-0.25,0M0.25,0L1.56,0M0,-0.42L0.42,0.3L-0.42,0.3Z","M-1.56,0L-0.33,0M0.33,0L1.56,0M-0.33,-0.33L0.33,-0.33L0.33,0.33L-0.33,0.33Z","M-1.56,0L1.56,0M0.4,0A0.4,0.4,0,1,1,-0.4,0A0.4,0.4,0,1,1,0.4,0Z"]}, "legend": {"title": null, "columns": 1, "legendX": 140, "legendY": 27, "rowPadding": 5}},
           "stroke": {"field": "s", "type": "nominal", "scale": {"domain": ["砕石A","砕石B","砕石C","砂利G"], "range": ["#8e8e8e","#666666","#acacac","#000000"]}},
           "fill": {"field": "s", "type": "nominal", "scale": {"domain": ["砕石A","砕石B","砕石C","砂利G"], "range": ["white","white","white","black"]}}}},
         {"data": {"values": [{}]}, "mark": {"type": "rect", "fill": "white", "stroke": "#333333", "strokeWidth": 1.5},
          "encoding": {"x": {"datum": 0.746}, "x2": {"datum": 0.846}, "y": {"datum": 45.4}, "y2": {"datum": 57.95}}},
         {"data": {"values": [{"t": "砕石　Gmax=40mm\n砂利　Gmax=40mm"}]}, "mark": {"type": "text", "align": "left", "baseline": "middle", "lineBreak": "\n", "lineHeight": 19, "fontSize": 13, "fontWeight": "bold", "color": "#333333"},
          "encoding": {"x": {"datum": 0.753}, "y": {"datum": 51.45}, "text": {"field": "t"}}}
        ],
        "resolve": {"scale": {"shape": "independent", "stroke": "independent", "fill": "independent"}}}
      ], "spacing": -4, "bounds": "full", "resolve": {"scale": {"shape": "independent", "stroke": "independent", "fill": "independent"}}},
     {"hconcat": [
       {"width": 77, "height": 335, "view": {"stroke": "#111111", "strokeWidth": 2}, "data": {"values": [{"t": "石灰石 LA〜LD"}]}, "mark": {"type": "text", "angle": 270, "fontSize": 23}, "encoding": {"y": {"datum": 0.5, "type": "quantitative", "scale": {"domain": [0, 1]}, "axis": null}, "text": {"field": "t"}}},
       {"width": 557, "height": 335,
        "layer": [
         {"data": {"values": [{}]}, "mark": {"type": "rect", "fill": "transparent", "stroke": "#8c8c8c", "strokeWidth": 2},
          "encoding": {
           "x": {"datum": 0.6, "type": "quantitative", "scale": {"domain": [0.6, 0.85], "range": [130, 485], "nice": false, "zero": false}, "axis": {"title": "単位粗骨材かさ容積", "offset": -51, "titlePadding": 6, "values": [0.6, 0.65, 0.7, 0.75, 0.8, 0.85], "format": ".2f"}},
           "x2": {"datum": 0.85},
           "y": {"datum": 0, "type": "quantitative", "scale": {"domain": [0, 14], "range": [284, 22], "nice": false, "zero": false}, "axis": {"title": "スランプ(cm)", "offset": -130, "titlePadding": -3, "values": [0, 2, 4, 6, 8, 10, 12, 14], "format": ".1f"}},
           "y2": {"datum": 14}}},
         {"data": {"name": "d"}, "transform": [{"filter": "datum.c == 9"}], "mark": {"type": "line", "strokeWidth": 2},
          "encoding": {"x": {"field": "x", "type": "quantitative"}, "y": {"field": "y", "type": "quantitative"},
           "stroke": {"field": "s", "type": "nominal", "scale": {"domain": ["石灰石LA","石灰石LB","石灰石LC","石灰石LD","砂利G"], "range": ["#7e7e7e","#5a5a5a","#9e9e9e","#c8c8c8","#000000"]}, "legend": null}}},
         {"data": {"name": "d"}, "transform": [{"filter": "datum.c == 9"}], "mark": {"type": "point", "filled": true, "size": 130, "strokeWidth": 1.5, "opacity": 1},
          "encoding": {"x": {"field": "x", "type": "quantitative"}, "y": {"field": "y", "type": "quantitative"},
           "shape": {"field": "s", "type": "nominal", "scale": {"domain": ["石灰石LA","石灰石LB","石灰石LC","石灰石LD","砂利G"], "range": ["circle","triangle-up","square","diamond","circle"]}, "legend": null},
           "stroke": {"field": "s", "type": "nominal", "scale": {"domain": ["石灰石LA","石灰石LB","石灰石LC","石灰石LD","砂利G"], "range": ["#7e7e7e","#5a5a5a","#9e9e9e","#c8c8c8","#000000"]}, "legend": null},
           "fill": {"field": "s", "type": "nominal", "scale": {"domain": ["石灰石LA","石灰石LB","石灰石LC","石灰石LD","砂利G"], "range": ["white","white","white","white","black"]}, "legend": null}}},
         {"data": {"name": "d"}, "transform": [{"filter": "false"}], "mark": {"type": "point", "filled": true, "strokeWidth": 1.5, "opacity": 1},
          "encoding": {
           "shape": {"field": "s", "type": "nominal", "scale": {"domain": ["石灰石LA","石灰石LB","石灰石LC","石灰石LD","砂利G"], "range": ["M-1.56,0L-0.36,0M0.36,0L1.56,0M0.36,0A0.36,0.36,0,1,1,-0.36,0A0.36,0.36,0,1,1,0.36,0Z","M-1.56,0L-0.25,0M0.25,0L1.56,0M0,-0.42L0.42,0.3L-0.42,0.3Z","M-1.56,0L-0.33,0M0.33,0L1.56,0M-0.33,-0.33L0.33,-0.33L0.33,0.33L-0.33,0.33Z","M-1.56,0L-0.42,0M0.42,0L1.56,0M0,-0.42L0.42,0L0,0.42L-0.42,0Z","M-1.56,0L1.56,0M0.4,0A0.4,0.4,0,1,1,-0.4,0A0.4,0.4,0,1,1,0.4,0Z"]}, "legend": {"title": null, "columns": 3, "direction": "horizontal", "columnPadding": 0, "symbolOffset": 3, "labelOffset": 8, "legendX": 137, "legendY": 29}},
           "stroke": {"field": "s", "type": "nominal", "scale": {"domain": ["石灰石LA","石灰石LB","石灰石LC","石灰石LD","砂利G"], "range": ["#7e7e7e","#5a5a5a","#9e9e9e","#c8c8c8","#000000"]}},
           "fill": {"field": "s", "type": "nominal", "scale": {"domain": ["石灰石LA","石灰石LB","石灰石LC","石灰石LD","砂利G"], "range": ["white","white","white","white","black"]}}}},
         {"data": {"values": [{}]}, "mark": {"type": "rect", "fill": "white", "stroke": "#333333", "strokeWidth": 1.5},
          "encoding": {"x": {"datum": 0.6035}, "x2": {"datum": 0.7166}, "y": {"datum": 8.12}, "y2": {"datum": 11.22}}},
         {"data": {"values": [{"t": "石灰石　Gmax=40mm\n砂利　Gmax=40mm"}]}, "mark": {"type": "text", "align": "left", "baseline": "middle", "lineBreak": "\n", "lineHeight": 19, "fontSize": 13, "fontWeight": "bold", "color": "#333333"},
          "encoding": {"x": {"datum": 0.611}, "y": {"datum": 9.645}, "text": {"field": "t"}}}
        ],
        "resolve": {"scale": {"shape": "independent", "stroke": "independent", "fill": "independent"}}},
       {"width": 556, "height": 335,
        "layer": [
         {"data": {"values": [{}]}, "mark": {"type": "rect", "fill": "transparent", "stroke": "#8c8c8c", "strokeWidth": 2},
          "encoding": {
           "x": {"datum": 0.6, "type": "quantitative", "scale": {"domain": [0.6, 0.85], "range": [131, 484], "nice": false, "zero": false}, "axis": {"title": "単位粗骨材かさ容積", "offset": -50, "titlePadding": 6, "values": [0.6, 0.65, 0.7, 0.75, 0.8, 0.85], "format": ".2f"}},
           "x2": {"datum": 0.85},
           "y": {"datum": 0, "type": "quantitative", "scale": {"domain": [0, 60], "range": [285, 23], "nice": false, "zero": false}, "axis": {"title": "沈下度(秒)", "offset": -131, "titlePadding": 10, "values": [0, 10, 20, 30, 40, 50, 60], "format": "d"}},
           "y2": {"datum": 60}}},
         {"data": {"name": "d"}, "transform": [{"filter": "datum.c == 10"}], "mark": {"type": "line", "strokeWidth": 2},
          "encoding": {"x": {"field": "x", "type": "quantitative"}, "y": {"field": "y", "type": "quantitative"},
           "stroke": {"field": "s", "type": "nominal", "scale": {"domain": ["石灰石LA","石灰石LB","石灰石LC","石灰石LD","砂利G"], "range": ["#7e7e7e","#5a5a5a","#9e9e9e","#c8c8c8","#000000"]}, "legend": null}}},
         {"data": {"name": "d"}, "transform": [{"filter": "datum.c == 10"}], "mark": {"type": "point", "filled": true, "size": 130, "strokeWidth": 1.5, "opacity": 1},
          "encoding": {"x": {"field": "x", "type": "quantitative"}, "y": {"field": "y", "type": "quantitative"},
           "shape": {"field": "s", "type": "nominal", "scale": {"domain": ["石灰石LA","石灰石LB","石灰石LC","石灰石LD","砂利G"], "range": ["circle","triangle-up","square","diamond","circle"]}, "legend": null},
           "stroke": {"field": "s", "type": "nominal", "scale": {"domain": ["石灰石LA","石灰石LB","石灰石LC","石灰石LD","砂利G"], "range": ["#7e7e7e","#5a5a5a","#9e9e9e","#c8c8c8","#000000"]}, "legend": null},
           "fill": {"field": "s", "type": "nominal", "scale": {"domain": ["石灰石LA","石灰石LB","石灰石LC","石灰石LD","砂利G"], "range": ["white","white","white","white","black"]}, "legend": null}}},
         {"data": {"name": "d"}, "transform": [{"filter": "false"}], "mark": {"type": "point", "filled": true, "strokeWidth": 1.5, "opacity": 1},
          "encoding": {
           "shape": {"field": "s", "type": "nominal", "scale": {"domain": ["石灰石LA","石灰石LB","石灰石LC","石灰石LD","砂利G"], "range": ["M-1.56,0L-0.36,0M0.36,0L1.56,0M0.36,0A0.36,0.36,0,1,1,-0.36,0A0.36,0.36,0,1,1,0.36,0Z","M-1.56,0L-0.25,0M0.25,0L1.56,0M0,-0.42L0.42,0.3L-0.42,0.3Z","M-1.56,0L-0.33,0M0.33,0L1.56,0M-0.33,-0.33L0.33,-0.33L0.33,0.33L-0.33,0.33Z","M-1.56,0L-0.42,0M0.42,0L1.56,0M0,-0.42L0.42,0L0,0.42L-0.42,0Z","M-1.56,0L1.56,0M0.4,0A0.4,0.4,0,1,1,-0.4,0A0.4,0.4,0,1,1,0.4,0Z"]}, "legend": {"title": null, "columns": 3, "direction": "horizontal", "columnPadding": 0, "symbolOffset": 3, "labelOffset": 8, "legendX": 183, "legendY": 29}},
           "stroke": {"field": "s", "type": "nominal", "scale": {"domain": ["石灰石LA","石灰石LB","石灰石LC","石灰石LD","砂利G"], "range": ["#7e7e7e","#5a5a5a","#9e9e9e","#c8c8c8","#000000"]}},
           "fill": {"field": "s", "type": "nominal", "scale": {"domain": ["石灰石LA","石灰石LB","石灰石LC","石灰石LD","砂利G"], "range": ["white","white","white","white","black"]}}}},
         {"data": {"values": [{}]}, "mark": {"type": "rect", "fill": "white", "stroke": "#333333", "strokeWidth": 1.5},
          "encoding": {"x": {"datum": 0.733}, "x2": {"datum": 0.844}, "y": {"datum": 34.2}, "y2": {"datum": 46.8}}},
         {"data": {"values": [{"t": "石灰石　Gmax=40mm\n砂利　Gmax=40mm"}]}, "mark": {"type": "text", "align": "left", "baseline": "middle", "lineBreak": "\n", "lineHeight": 19, "fontSize": 13, "fontWeight": "bold", "color": "#333333"},
          "encoding": {"x": {"datum": 0.741}, "y": {"datum": 40.5}, "text": {"field": "t"}}}
        ],
        "resolve": {"scale": {"shape": "independent", "stroke": "independent", "fill": "independent"}}}
      ], "spacing": -4, "bounds": "full", "resolve": {"scale": {"shape": "independent", "stroke": "independent", "fill": "independent"}}}
    ], "spacing": -4, "bounds": "full", "resolve": {"scale": {"shape": "independent", "stroke": "independent", "fill": "independent"}}}
  ], "spacing": -4, "bounds": "full", "resolve": {"scale": {"shape": "independent", "stroke": "independent", "fill": "independent"}}}
]
}
